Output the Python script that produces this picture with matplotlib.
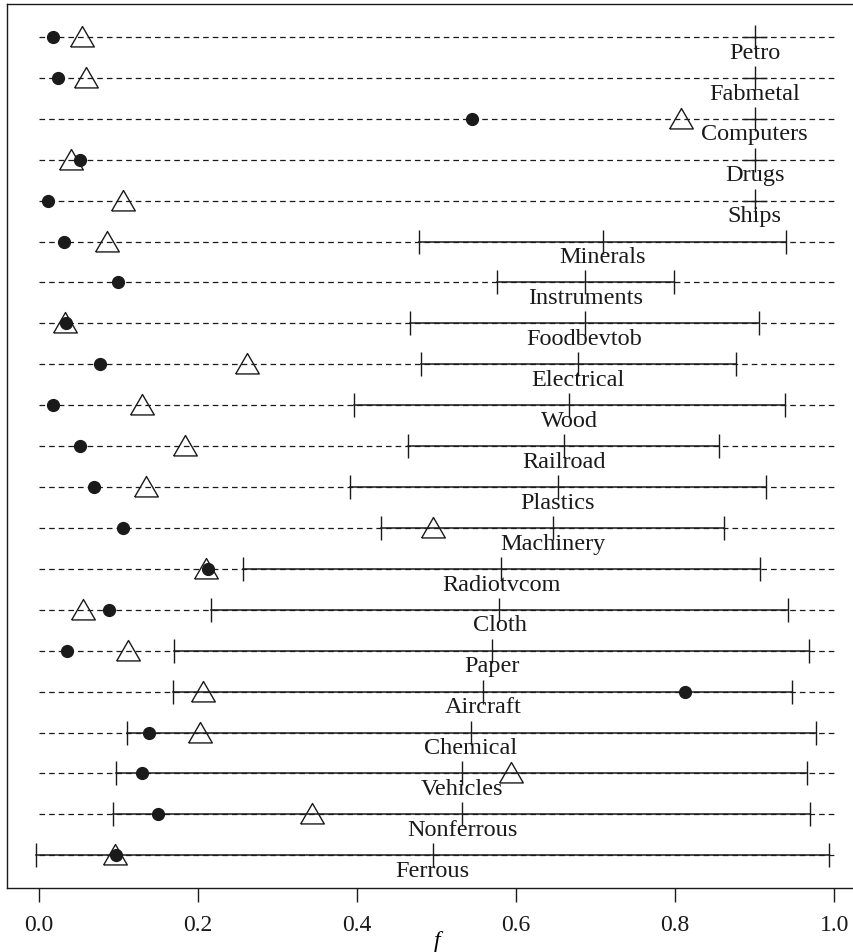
import matplotlib
matplotlib.use("Agg")
import matplotlib.pyplot as plt
import numpy as np

# rows from top to bottom
industries = ["Petro", "Fabmetal", "Computers", "Drugs", "Ships", "Minerals",
              "Instruments", "Foodbevtob", "Electrical", "Wood", "Railroad",
              "Plastics", "Machinery", "Radiotvcom", "Cloth", "Paper",
              "Aircraft", "Chemical", "Vehicles", "Nonferrous", "Ferrous"]

dot_vals = [0.018, 0.024, 0.544, 0.051, 0.011, 0.031, 0.099, 0.034, 0.077,
            0.017, 0.052, 0.069, 0.106, 0.212, 0.088, 0.035, 0.812, 0.138,
            0.129, 0.149, 0.097]

tri_vals = [0.054, 0.059, 0.807, 0.040, 0.106, 0.086, np.nan, 0.033, 0.262,
            0.130, 0.184, 0.134, 0.495, 0.210, 0.055, 0.112, 0.206, 0.202,
            0.593, 0.343, 0.095]

mid_vals = [0.900, 0.900, 0.900, 0.900, 0.900, 0.709, 0.687, 0.686, 0.678,
            0.667, 0.660, 0.652, 0.646, 0.581, 0.579, 0.569, 0.558, 0.543,
            0.532, 0.532, 0.495]

lo_vals = [np.nan, np.nan, np.nan, np.nan, np.nan, 0.478, 0.576, 0.467, 0.480,
           0.396, 0.464, 0.391, 0.430, 0.256, 0.216, 0.170, 0.169, 0.110,
           0.097, 0.093, -0.004]

hi_vals = [np.nan, np.nan, np.nan, np.nan, np.nan, 0.940, 0.799, 0.906, 0.877,
           0.938, 0.855, 0.914, 0.861, 0.907, 0.942, 0.968, 0.947, 0.977,
           0.966, 0.970, 0.994]

x_ticks = [0.0, 0.2, 0.4, 0.6, 0.8, 1.0]

plt.rcParams['font.family'] = ['Liberation Serif', 'DejaVu Serif']
ink = '#1a1a1a'

fig = plt.figure(figsize=(8.54, 9.53), dpi=100)
ax = fig.add_axes([0.00855, 0.06716, 1.0055, 0.92728])

n = len(industries)
ypos = np.arange(n, 0, -1)

tri_marker = [(-1, -0.8), (1, -0.8), (0, 0.93), (-1, -0.8)]

for i in range(n):
    y = ypos[i]
    ax.plot([0, 1], [y, y], color=ink, lw=0.9, dashes=(4.5, 3.2), zorder=1)
    if np.isnan(lo_vals[i]):
        ax.plot(mid_vals[i], y, marker='+', ms=17, mew=1.0, color=ink, zorder=2)
    else:
        ax.plot([lo_vals[i], hi_vals[i]], [y, y], color=ink, lw=1.1, zorder=2)
        ax.plot([lo_vals[i], mid_vals[i], hi_vals[i]], [y, y, y], ls='none',
                marker='|', ms=17, mew=1.0, color=ink, zorder=2)
    ax.text(mid_vals[i], y - 0.37, industries[i], ha='center', va='center',
            fontsize=17.5, color=ink)

ax.plot(dot_vals, ypos, ls='none', marker='o', ms=8.5, color=ink, zorder=4)
ax.plot(tri_vals, ypos, ls='none', marker=tri_marker, ms=17, mfc='none',
        mec=ink, mew=1.0, zorder=3)

ax.set_xlim(-0.04, 1.04)
ax.set_ylim(0.2, n + 0.8)
ax.set_yticks([])
ax.set_xticks(x_ticks)
ax.set_xticklabels(["%.1f" % t for t in x_ticks])
ax.tick_params(axis='x', direction='out', length=10, width=1.0, pad=9,
               labelsize=17, colors=ink)
ax.set_xlabel("f", fontstyle='italic', fontsize=17, labelpad=-4)
for s in ax.spines.values():
    s.set_color(ink)
    s.set_linewidth(1.0)

fig.savefig("out.png", dpi=100)
